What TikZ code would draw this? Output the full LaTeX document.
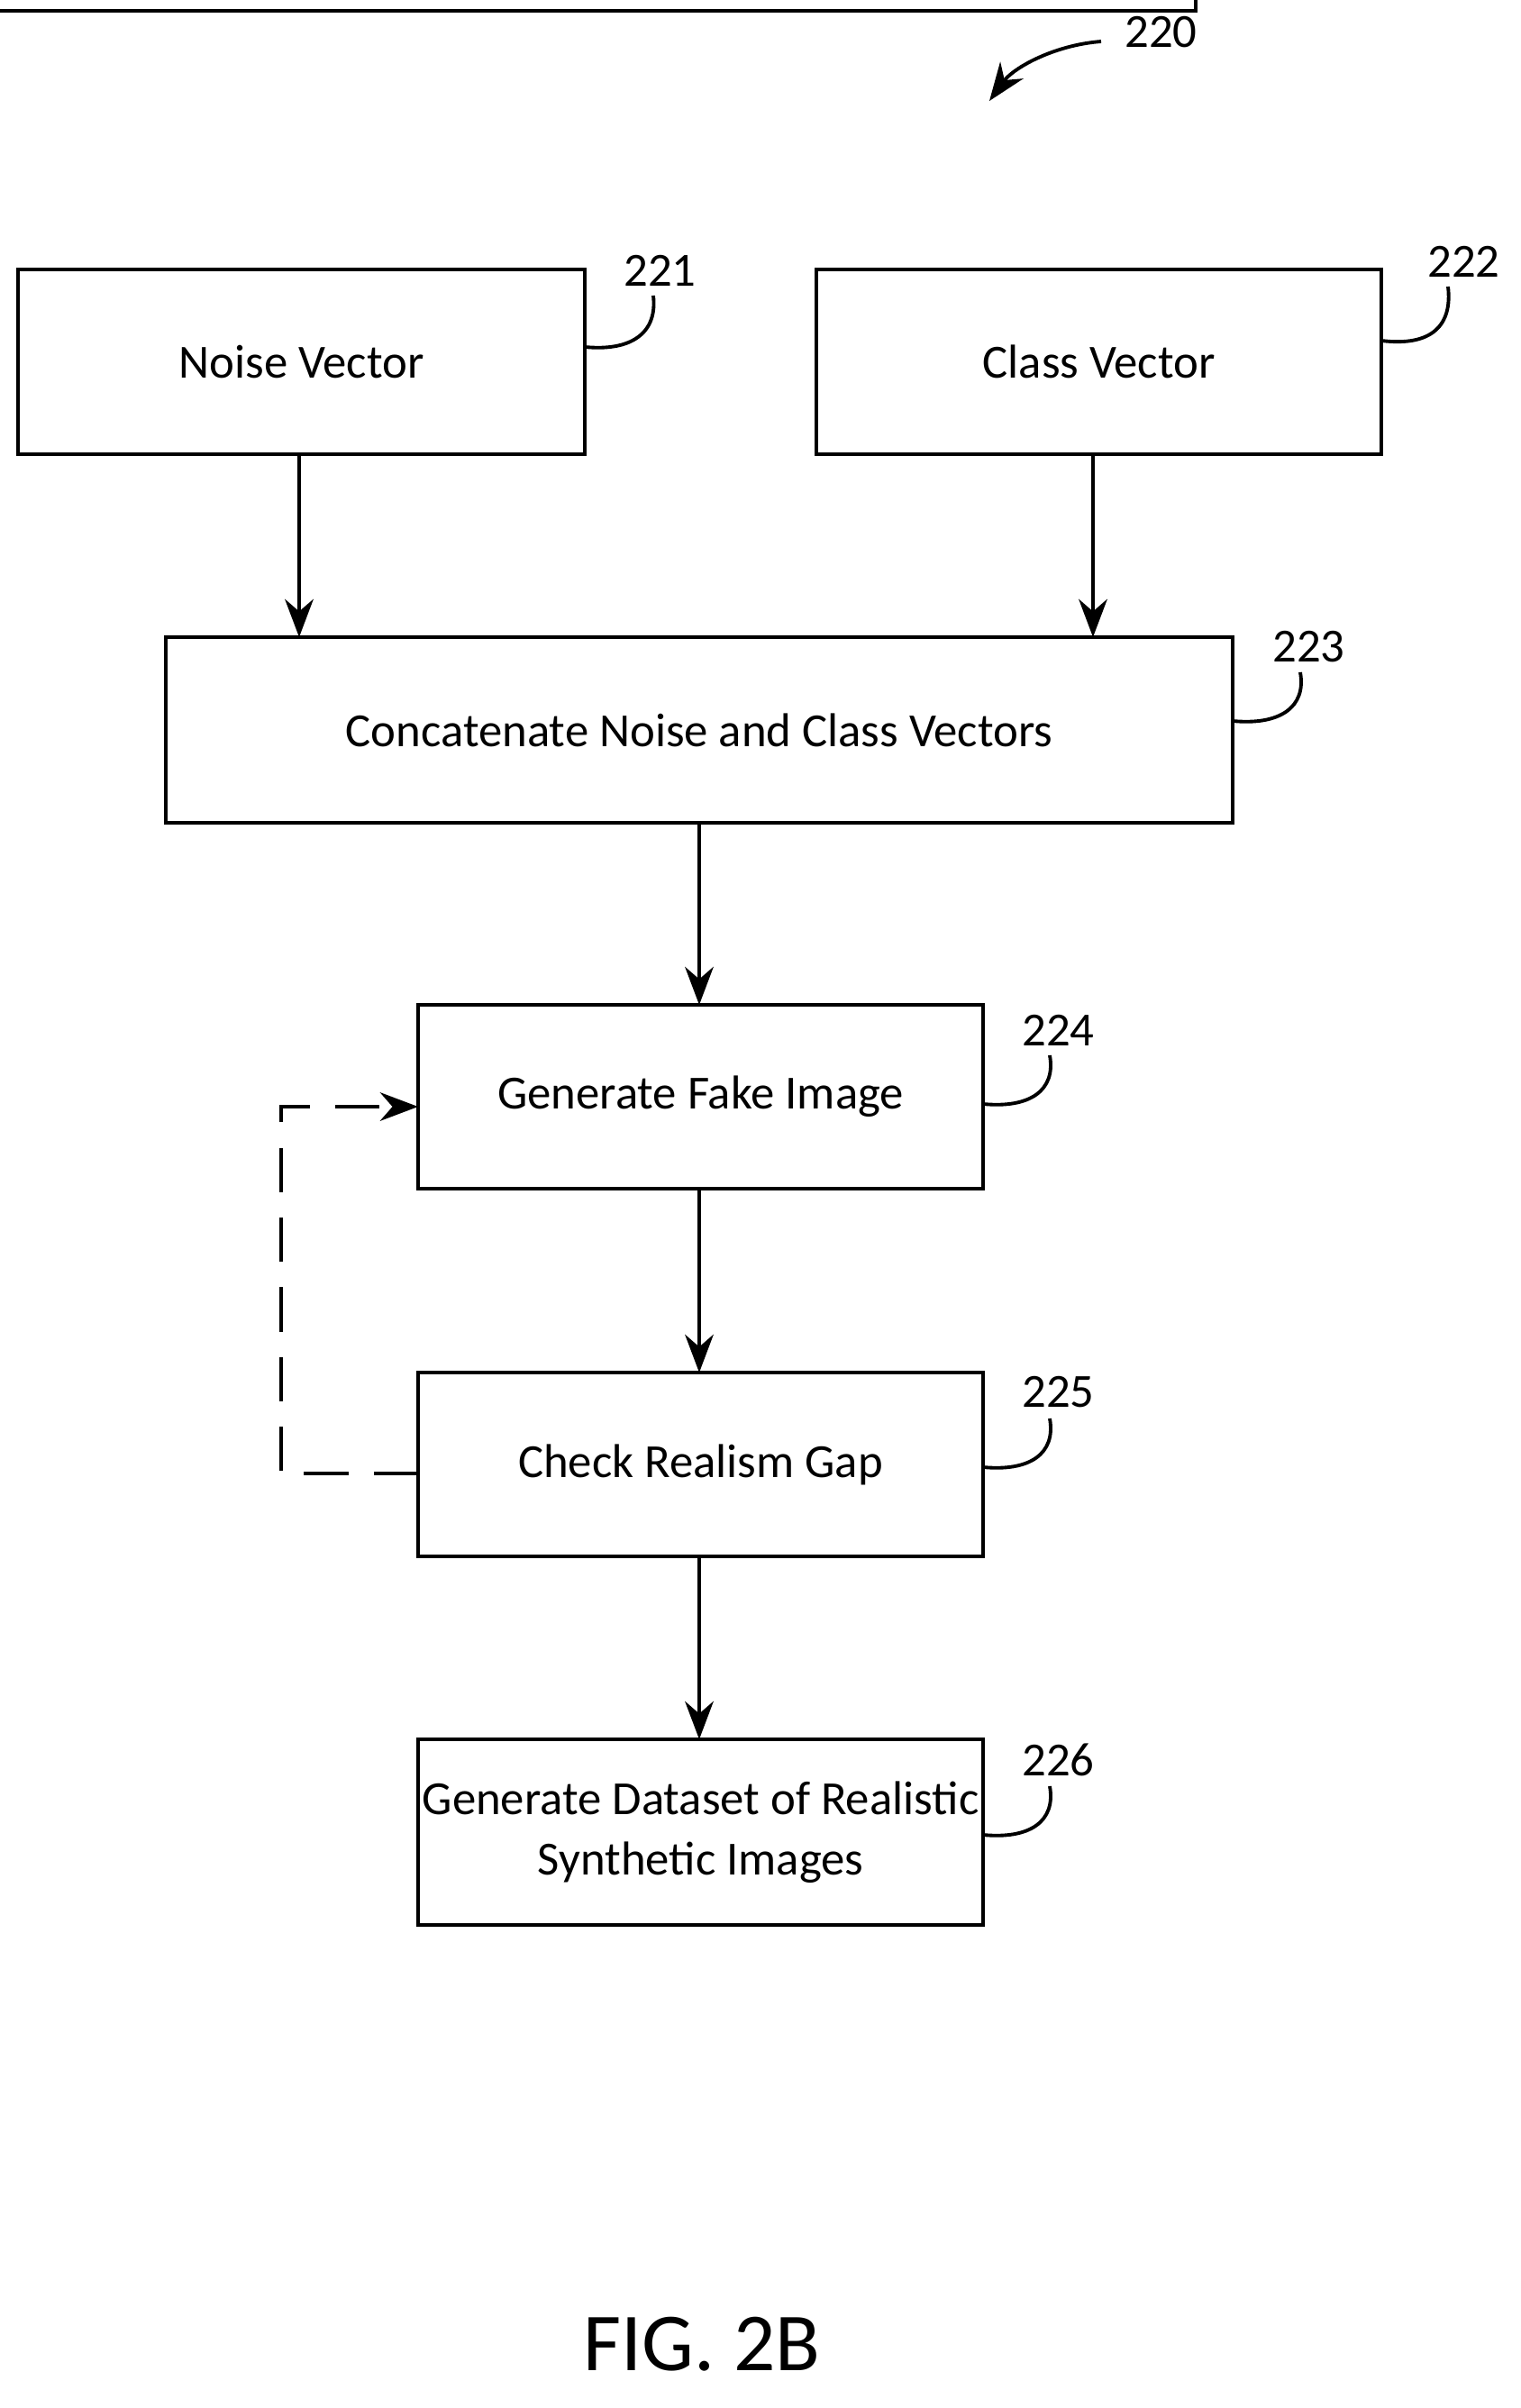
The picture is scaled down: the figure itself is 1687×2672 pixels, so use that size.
\documentclass[tikz,border=0pt]{standalone}
\usepackage{fontspec}
\setmainfont{Carlito}
\usetikzlibrary{arrows.meta}
\begin{document}
\begin{tikzpicture}[x=0.01cm,y=-0.01cm,
  box/.style={draw,line width=1.2pt,align=center,font=\fontsize{15}{19}\selectfont},
  arr/.style={line width=1.1pt,-{Stealth[length=12pt,width=9pt]}},
  lead/.style={line width=1.1pt},
  lbl/.style={font=\fontsize{15}{18}\selectfont,anchor=west}]
\useasboundingbox (0,0) rectangle (1687,2672);
\node[box,minimum width=629\pgflinewidth] at (0,0) {};
\path[box] (20,299) rectangle (649,504); \node[box,draw=none] (n) at (334.5,401.5) {Noise Vector};
\path[box] (906,299) rectangle (1533,504); \node[box,draw=none] (c) at (1219.5,401.5) {Class Vector};
\path[box] (184,707) rectangle (1368,913); \node[box,draw=none] (cat) at (776,810) {Concatenate Noise and Class Vectors};
\path[box] (464,1115) rectangle (1091,1319); \node[box,draw=none] (g) at (777.5,1217) {Generate Fake Image};
\path[box] (464,1523) rectangle (1091,1727); \node[box,draw=none] (k) at (777.5,1625) {Check Realism Gap};
\path[box] (464,1930) rectangle (1091,2136); \node[box,draw=none] (d) at (777.5,2033) {Generate Dataset of Realistic\\Synthetic Images};
\coordinate (n1) at (332,504); \coordinate (n2) at (332,707);
\coordinate (c1) at (1213,504); \coordinate (c2) at (1213,707);
\draw[arr] (n1) -- (n2);
\draw[arr] (c1) -- (c2);
\coordinate (a1) at (776,913); \coordinate (a2) at (776,1115);
\coordinate (b1) at (776,1319); \coordinate (b2) at (776,1523);
\coordinate (e1) at (776,1727); \coordinate (e2) at (776,1930);
\draw[arr] (a1) -- (a2);
\draw[arr] (b1) -- (b2);
\draw[arr] (e1) -- (e2);
\coordinate (f1) at (464,1635); \coordinate (f2) at (464,1228);
\draw[arr,dash pattern=on 14pt off 8pt] (f1) -- (312,1635) -- (312,1228) -- (f2);
% labels
\node[lbl] (l221) at (680,300) {221};
\draw[lead] (649,385) .. controls (700,390) and (730,370) .. (725,328);
\node[lbl] (l222) at (1572,290) {222};
\draw[lead] (1533,378) .. controls (1590,385) and (1612,360) .. (1607,318);
\node[lbl] (l223) at (1400,718) {223};
\draw[lead] (1368,800) .. controls (1420,805) and (1450,785) .. (1443,746);
\node[lbl] (l224) at (1122,1143) {224};
\draw[lead] (1091,1225) .. controls (1143,1230) and (1172,1210) .. (1165,1171);
\node[lbl] (l225) at (1122,1545) {225};
\draw[lead] (1091,1628) .. controls (1143,1633) and (1172,1613) .. (1165,1574);
\node[lbl] (l226) at (1122,1953) {226};
\draw[lead] (1091,2036) .. controls (1143,2041) and (1172,2021) .. (1165,1982);
\node[lbl] (l220) at (1236,36) {220};
\coordinate (p220) at (1098,112);
\draw[arr] (1222,46) .. controls (1170,50) and (1125,75) .. (p220);
\node[font=\fontsize{26}{30}\selectfont] (fig) at (779,2601) {FIG. 2B};
\end{tikzpicture}
\end{document}
